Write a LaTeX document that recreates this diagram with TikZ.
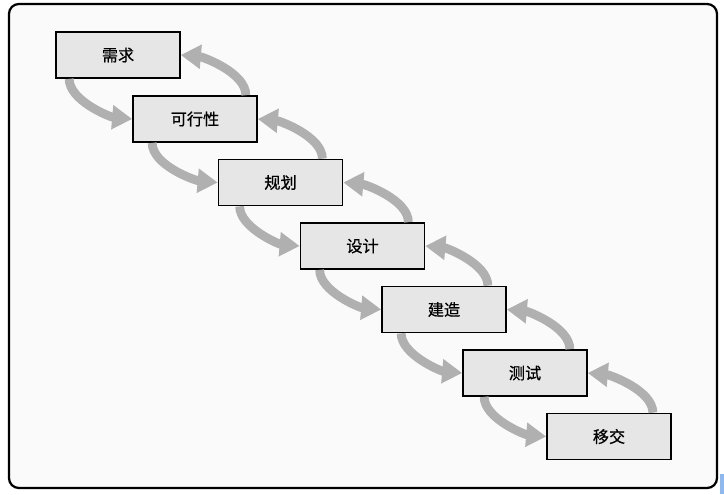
\documentclass[tikz,border=0pt]{standalone}
\usepackage{fontspec}
\usepackage{tikz}
\usetikzlibrary{arrows.meta}
\newfontfamily\cjk[FakeBold=0.7]{Noto Sans CJK SC}
\newcommand{\px}{0.025cm}
\definecolor{grisboite}{RGB}{230,230,230}
\definecolor{grisfleche}{RGB}{176,176,176}
\definecolor{bleubord}{RGB}{141,184,240}
\tikzstyle{cadre}=[line width=1.6pt, rounded corners=7pt, fill=white!98!black]
\tikzstyle{etape}=[draw, line width=1.2pt, fill=grisboite, minimum width=3.1cm, minimum height=1.15cm, inner sep=0pt, font=\cjk\fontsize{11.5}{13}\selectfont]
\tikzstyle{fleche}=[line width=0.22cm, grisfleche, looseness=0.75, -{Triangle[width=0.58cm,length=0.5cm]}]

\begin{document}
\begin{tikzpicture}[x=\px, y=-\px]

\useasboundingbox (0,0) rectangle (724,494);
\draw[cadre] (9,4) rectangle (717,488);
\fill[bleubord] (720,474) rectangle (724,494);

\foreach \t/\x/\y [count=\i] in {需求/118/55, 可行性/195/119, 规划/280.5/182.5, 设计/362.5/246, 建造/444/309.5, 测试/525/373, 移交/609/436.5}
\node[etape] (s\i) at (\x,\y) {\t};

\foreach \i/\a/\b [evaluate=\i as \j using int(\i+1)] in {1/14/12, 2/20/21, 3/22/17, 4/20/19, 5/20/18, 6/22/19}
{
\draw[fleche] ([xshift=\a*\px]s\i.south west) to[out=-90, in=175] (s\j.west);
\draw[fleche] ([xshift=-\b*\px]s\j.north east) to[out=90, in=-5] (s\i.east);
}

\end{tikzpicture}
\end{document}
